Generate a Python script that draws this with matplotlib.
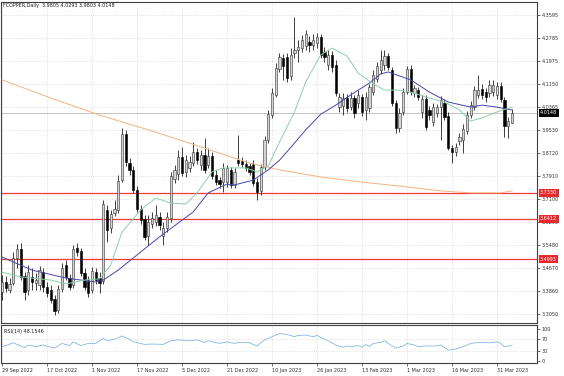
import matplotlib
matplotlib.use('Agg')
import matplotlib.pyplot as plt
import numpy as np

# daily candles, 29 Sep 2022 .. 6 Apr 2023
opens = [3.384, 3.419, 3.391, 3.416, 3.504, 3.535, 3.440, 3.391, 3.437, 3.416,
         3.409, 3.454, 3.402, 3.391, 3.359, 3.320, 3.395, 3.479, 3.433, 3.409,
         3.539, 3.528, 3.451, 3.426, 3.391, 3.454, 3.433, 3.423, 3.673, 3.609,
         3.662, 3.673, 3.778, 3.940, 3.838, 3.814, 3.743, 3.676, 3.641, 3.581,
         3.623, 3.630, 3.648, 3.581, 3.609, 3.645, 3.782, 3.799, 3.859, 3.807,
         3.821, 3.838, 3.877, 3.831, 3.866, 3.831, 3.863, 3.796, 3.778, 3.771,
         3.771, 3.814, 3.761, 3.849, 3.845, 3.835, 3.828, 3.835, 3.771, 3.740,
         3.824, 3.919, 4.007, 4.078, 4.169, 4.208, 4.212, 4.145, 4.226, 4.236,
         4.243, 4.250, 4.264, 4.254, 4.261, 4.282, 4.229, 4.183, 4.219, 4.183,
         4.035, 4.039, 4.067, 4.035, 4.067, 4.050, 4.071, 4.025, 4.032, 4.088,
         4.134, 4.166, 4.183, 4.215, 4.166, 4.050, 3.962, 4.018, 4.088, 4.169,
         4.085, 4.095, 4.018, 4.064, 4.025, 3.983, 4.014, 4.035, 4.050, 4.004,
         3.891, 3.877, 3.916, 3.919, 3.951, 4.007, 4.035, 4.078, 4.099, 4.088,
         4.085, 4.088, 4.078, 4.109, 4.060, 3.969, 3.9805]
highs = [3.444, 3.440, 3.433, 3.525, 3.553, 3.557, 3.454, 3.479, 3.468, 3.451,
         3.476, 3.468, 3.419, 3.409, 3.373, 3.409, 3.486, 3.497, 3.447, 3.549,
         3.557, 3.539, 3.468, 3.440, 3.472, 3.468, 3.454, 3.708, 3.690, 3.673,
         3.708, 3.796, 3.962, 3.954, 3.856, 3.828, 3.757, 3.690, 3.655, 3.655,
         3.666, 3.690, 3.666, 3.630, 3.666, 3.807, 3.831, 3.884, 3.895, 3.866,
         3.863, 3.912, 3.891, 3.884, 3.926, 3.891, 3.877, 3.814, 3.789, 3.838,
         3.831, 3.824, 3.821, 3.937, 3.859, 3.849, 3.838, 3.849, 3.785, 3.835,
         3.933, 4.025, 4.102, 4.190, 4.226, 4.222, 4.226, 4.243, 4.352, 4.271,
         4.289, 4.307, 4.286, 4.293, 4.296, 4.293, 4.247, 4.236, 4.233, 4.201,
         4.085, 4.085, 4.081, 4.088, 4.078, 4.095, 4.081, 4.088, 4.117, 4.166,
         4.194, 4.236, 4.236, 4.226, 4.176, 4.060, 4.032, 4.102, 4.180, 4.183,
         4.113, 4.106, 4.078, 4.078, 4.039, 4.050, 4.046, 4.074, 4.064, 4.018,
         3.902, 3.909, 3.944, 3.976, 4.021, 4.057, 4.109, 4.148, 4.117, 4.102,
         4.131, 4.131, 4.124, 4.124, 4.071, 4.000, 4.0293]
lows = [3.356, 3.384, 3.380, 3.409, 3.468, 3.426, 3.356, 3.373, 3.391, 3.391,
        3.391, 3.384, 3.366, 3.345, 3.303, 3.310, 3.384, 3.426, 3.391, 3.398,
        3.511, 3.440, 3.391, 3.366, 3.380, 3.412, 3.380, 3.412, 3.560, 3.592,
        3.652, 3.662, 3.771, 3.828, 3.796, 3.733, 3.666, 3.623, 3.567, 3.549,
        3.609, 3.616, 3.602, 3.549, 3.595, 3.630, 3.768, 3.778, 3.792, 3.789,
        3.807, 3.828, 3.835, 3.814, 3.803, 3.821, 3.782, 3.761, 3.750, 3.736,
        3.754, 3.750, 3.750, 3.828, 3.824, 3.810, 3.796, 3.757, 3.708, 3.726,
        3.814, 3.909, 3.997, 4.071, 4.159, 4.131, 4.124, 4.131, 4.208, 4.194,
        4.229, 4.236, 4.229, 4.236, 4.243, 4.208, 4.194, 4.166, 4.159, 4.074,
        4.018, 4.007, 4.018, 4.025, 3.997, 4.032, 4.004, 3.990, 4.018, 4.078,
        4.124, 4.152, 4.166, 4.166, 4.039, 3.944, 3.947, 4.007, 4.081, 4.078,
        4.071, 4.060, 3.997, 3.954, 3.990, 3.969, 4.000, 3.919, 3.990, 3.884,
        3.838, 3.863, 3.902, 3.873, 3.940, 3.997, 4.025, 4.067, 4.064, 4.053,
        4.071, 4.074, 4.064, 4.053, 3.930, 3.926, 3.9803]
closes = [3.419, 3.398, 3.412, 3.504, 3.535, 3.437, 3.384, 3.454, 3.419, 3.426,
          3.461, 3.402, 3.380, 3.356, 3.317, 3.395, 3.468, 3.437, 3.402, 3.535,
          3.525, 3.451, 3.402, 3.380, 3.458, 3.426, 3.416, 3.694, 3.602, 3.659,
          3.676, 3.775, 3.940, 3.842, 3.814, 3.743, 3.676, 3.637, 3.578, 3.630,
          3.645, 3.655, 3.620, 3.609, 3.648, 3.792, 3.814, 3.859, 3.803, 3.849,
          3.842, 3.877, 3.849, 3.866, 3.814, 3.863, 3.792, 3.771, 3.764, 3.821,
          3.821, 3.761, 3.807, 3.838, 3.835, 3.821, 3.807, 3.768, 3.736, 3.824,
          3.919, 4.011, 4.085, 4.173, 4.212, 4.180, 4.138, 4.219, 4.236, 4.247,
          4.271, 4.293, 4.254, 4.271, 4.282, 4.219, 4.212, 4.219, 4.176, 4.085,
          4.071, 4.067, 4.032, 4.067, 4.014, 4.078, 4.018, 4.071, 4.106, 4.148,
          4.180, 4.201, 4.215, 4.176, 4.050, 3.962, 4.014, 4.088, 4.169, 4.088,
          4.102, 4.071, 4.064, 3.965, 4.007, 4.035, 4.035, 4.060, 4.000, 3.891,
          3.877, 3.895, 3.930, 3.958, 4.007, 4.042, 4.095, 4.095, 4.078, 4.071,
          4.113, 4.113, 4.109, 4.064, 3.969, 3.986, 4.0148]

# moving averages, sampled along the drawn lines (bar index, price)
ma_fast_idx = [0, 5, 13, 17, 22, 26, 29, 32, 37, 41, 45, 49, 52, 56, 59, 65, 68, 71,
               74, 78, 81, 85, 88, 92, 95, 99, 102, 106, 109, 114, 118, 122, 125,
               128, 132, 136]
ma_fast = [3.454, 3.437, 3.426, 3.412, 3.426, 3.430, 3.479, 3.595, 3.673, 3.715,
           3.697, 3.694, 3.733, 3.807, 3.821, 3.821, 3.807, 3.828, 3.912, 4.018,
           4.124, 4.219, 4.243, 4.215, 4.155, 4.117, 4.095, 4.095, 4.088, 4.067,
           4.053, 4.025, 3.986, 3.997, 4.018, 4.035]
ma_mid_idx = [0, 8, 17, 25, 27, 31, 37, 42, 47, 51, 55, 60, 62, 67, 71, 74, 77, 81,
              85, 89, 93, 98, 101, 103, 109, 114, 119, 125, 128, 132, 136]
ma_mid = [3.507, 3.461, 3.433, 3.419, 3.426, 3.461, 3.525, 3.578, 3.627, 3.666,
          3.733, 3.764, 3.761, 3.778, 3.814, 3.848, 3.893, 3.955, 4.010, 4.042,
          4.078, 4.120, 4.152, 4.159, 4.131, 4.088, 4.053, 4.035, 4.042, 4.035,
          4.025]
ma_slow_idx = [0, 13, 26, 40, 53, 66, 74, 85, 96, 106, 117, 125, 133, 136]
ma_slow = [4.131, 4.067, 4.007, 3.951, 3.895, 3.838, 3.814, 3.789, 3.771, 3.757,
           3.740, 3.733, 3.733, 3.740]

rsi_idx = [0, 1, 3, 6, 7, 9, 11, 14, 16, 18, 19, 21, 23, 25, 27, 28, 30, 32, 34, 35,
           38, 40, 43, 45, 47, 50, 52, 54, 55, 58, 60, 62, 63, 66, 68, 70, 72, 74,
           76, 78, 79, 81, 83, 84, 86, 87, 89, 91, 92, 93, 95, 96, 97, 98, 99, 101,
           102, 103, 105, 107, 108, 110, 111, 113, 116, 117, 119, 121, 123, 125,
           127, 130, 132, 133, 134, 136]
rsi_vals = [45, 48, 57, 42, 50, 45, 50, 40, 55, 48, 60, 48, 55, 55, 71, 63, 68, 78,
            68, 60, 52, 53, 52, 63, 66, 63, 66, 58, 63, 55, 60, 55, 58, 57, 47, 66,
            76, 86, 83, 76, 80, 81, 76, 80, 68, 63, 50, 43, 47, 45, 48, 43, 52, 45,
            55, 58, 63, 55, 40, 47, 55, 50, 45, 47, 47, 50, 34, 37, 45, 55, 58, 57,
            60, 55, 45, 48.15]

date_labels = ['29 Sep 2022', '17 Oct 2022', '1 Nov 2022', '17 Nov 2022', '5 Dec 2022',
               '21 Dec 2022', '10 Jan 2023', '26 Jan 2023', '13 Feb 2023', '1 Mar 2023',
               '16 Mar 2023', '31 Mar 2023']
price_ticks = [4.3595, 4.2785, 4.1975, 4.1150, 4.0365, 3.9530, 3.8720, 3.7910,
               3.7100, 3.6290, 3.5480, 3.4670, 3.3860, 3.3050]
levels = [3.7330, 3.6412, 3.4993]
last_price = 4.0148

fs = 3.5
W, H = 564, 376
fig = plt.figure(figsize=(W / 100, H / 100), dpi=100)
ax = fig.add_axes([1 / W, 1 - 323 / H, 536 / W, 321 / H])
rax = fig.add_axes([1 / W, 1 - 363 / H, 536 / W, 38 / H])

idx = np.arange(len(closes))
o = np.array(opens)
c = np.array(closes)
bull = c >= o
body_lo = np.minimum(o, c)
body_h = np.maximum(np.abs(c - o), 0.002)

ax.set_axisbelow(True)
ax.vlines(idx, lows, highs, color='#202020', lw=0.6, zorder=3)
ax.bar(idx[bull], body_h[bull], bottom=body_lo[bull], width=0.62,
       color='#d4d4d4', edgecolor='#303030', linewidth=0.4, zorder=4)
ax.bar(idx[~bull], body_h[~bull], bottom=body_lo[~bull], width=0.62,
       color='#000000', edgecolor='#000000', linewidth=0.4, zorder=4)

ax.plot(ma_slow_idx, ma_slow, color='#f3b37f', lw=0.7, zorder=5)
ax.plot(ma_mid_idx, ma_mid, color='#4646b0', lw=0.7, zorder=5)
ax.plot(ma_fast_idx, ma_fast, color='#8cd0aa', lw=0.7, zorder=5)

for lvl in levels:
    ax.axhline(lvl, color='#f03a3a', lw=0.9, zorder=2)
    ax.text(1.0 + 3 / 536, lvl, f'{lvl:.4f}', transform=ax.get_yaxis_transform(),
            fontsize=fs, color='white', va='center', ha='left', clip_on=False, zorder=10,
            bbox=dict(boxstyle='square,pad=0.3', fc='#e8282a', ec='none'))
ax.axhline(last_price, color='#c4c4c4', lw=0.7, zorder=1)
ax.text(1.0 + 3 / 536, last_price, f'{last_price:.4f}', transform=ax.get_yaxis_transform(),
        fontsize=fs, color='white', va='center', ha='left', clip_on=False, zorder=10,
        bbox=dict(boxstyle='square,pad=0.3', fc='#000000', ec='none'))

xmin, xmax = -0.27, 142.67
ax.set_xlim(xmin, xmax)
ax.set_ylim(3.2747, 4.4053)
ax.set_yticks(price_ticks)
ax.set_yticklabels([f'{t:.4f}' for t in price_ticks])
ax.yaxis.tick_right()
ax.set_xticks(np.arange(0, 137, 12))
ax.tick_params(axis='x', length=0, labelbottom=False)
ax.tick_params(axis='y', length=2, width=0.5, pad=1.5, labelsize=fs, colors='#303030')
ax.grid(True, color='#c8c8c8', linestyle=(0, (1, 2)), lw=0.5)
for s in ax.spines.values():
    s.set_color('#404040')
    s.set_linewidth(0.8)

# RSI panel
rax.plot(rsi_idx, rsi_vals, color='#86b6e6', lw=0.6)
rax.set_xlim(xmin, xmax)
rax.set_ylim(-6.25, 112.5)
for lv in (30, 70):
    rax.axhline(lv, color='#c8c8c8', linestyle=(0, (1, 2)), lw=0.5, zorder=0)
rax.set_yticks([0, 30, 70, 100])
rax.yaxis.tick_right()
rax.set_xticks(np.arange(0, 137, 12))
rax.set_xticklabels(date_labels)
for lbl in rax.get_xticklabels():
    lbl.set_ha('left')
rax.grid(True, axis='x', color='#c8c8c8', linestyle=(0, (1, 2)), lw=0.5)
rax.tick_params(axis='both', length=2, width=0.5, pad=1.5, labelsize=fs, colors='#303030')
for s in rax.spines.values():
    s.set_color('#404040')
    s.set_linewidth(0.8)
rax.text(0.006, 0.9, 'RSI(14) 48.1546', transform=rax.transAxes, fontsize=fs,
         va='top', ha='left', color='#202020')

fig.text(3 / W, 1 - 5 / H, 'FCOPPER,Daily  3.9805 4.0293 3.9803 4.0148',
         fontsize=fs, va='center', ha='left', color='#202020')

fig.savefig('out.png', dpi=100)
